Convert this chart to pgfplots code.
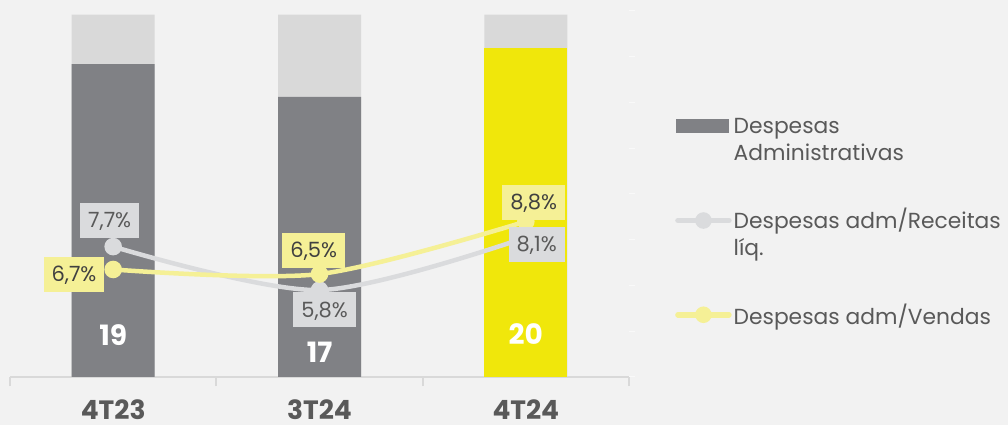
\documentclass[border=0pt]{standalone}
\usepackage{pgfplots}
\pgfplotsset{compat=1.18}
\usepackage{fontspec}
\setmainfont{Poppins}
\usetikzlibrary{backgrounds}
\definecolor{bg}{HTML}{F2F2F2}
\definecolor{barg}{HTML}{808185}
\definecolor{bartop}{HTML}{D9D9D9}
\definecolor{baryel}{HTML}{F0E70B}
\definecolor{lgray}{HTML}{DADBDD}
\definecolor{lyel}{HTML}{F5F096}
\definecolor{txt}{HTML}{595959}
\definecolor{txtd}{HTML}{404040}
\newcommand\ls{\rule[-8.1pt]{0pt}{27pt}}
\tikzset{
  lab/.style={font=\fontsize{21}{21}\selectfont, inner xsep=8pt, inner ysep=0pt, text height=14.7pt, text depth=0pt, minimum height=35pt},
  lbg/.style={lab, fill=lgray, text=txt},
  lby/.style={lab, fill=lyel, text=txtd},
  val/.style={font=\bfseries\fontsize{28}{28}\selectfont, text=white}}
\begin{document}
\begin{tikzpicture}
\pgfplotsset{base/.style={scale only axis, width=619pt, height=366pt, at={(10pt,48pt)}, anchor=south west, xmin=-0.5, xmax=2.5, clip=false}}
% primary axis: bars
\begin{axis}[base, ymin=0, ymax=22.22, ybar, bar width=83pt,
  axis x line*=bottom, axis y line=none,
  x axis line style={draw=bartop, line width=1.7pt, -},
  xtick={0,1,2}, xticklabels={4T23,3T24,4T24},
  major tick length=0pt, minor xtick={-0.5,0.5,1.5,2.5}, minor tick length=9pt, tick align=outside,
  minor tick style={draw=bartop, line width=1.7pt},
  xticklabel style={font=\bfseries\fontsize{26.5}{26.5}\selectfont, text=txt, anchor=base, inner sep=0pt, text depth=0pt, yshift=-42pt}]
\addplot[fill=bartop, draw=none, bar shift=0pt] coordinates {(0,22)(1,22)(2,22)};
\addplot[fill=barg, draw=none, bar shift=0pt] coordinates {(0,19)(1,17)};
\addplot[fill=baryel, draw=none, bar shift=0pt] coordinates {(2,20)};
\node[val] at (axis cs:0,2.55) {19};
\node[val] at (axis cs:1,1.52) {17};
\node[val] at (axis cs:2,2.58) {20};
\end{axis}
% secondary axis: ratios
\begin{axis}[base, ymin=2, ymax=18,
  axis x line=none, axis y line*=right, y axis line style={draw=none},
  ytick={2,4,...,18}, yticklabels={}, major tick length=6pt, tick align=outside,
  tick style={draw=white!55!bg, line width=1pt},
  legend cell align=left,
  legend style={draw=none, fill=none, at={(1.0743,0.7183)}, anchor=north west, inner sep=0pt,
    nodes={inner sep=0pt, text depth=}, row sep=40pt, column sep=2pt,
    font=\fontsize{21.8}{27}\selectfont, text=txt}]
\addlegendimage{legend image code/.code={\fill[barg] (0pt,9.1pt) rectangle (52pt,22.1pt); \path[draw=none,fill=none] (0pt,-22.1pt) -- (0pt,22.1pt);}}
\addplot[draw=lgray, line width=4.5pt, smooth, mark=*, mark size=6.5pt, mark options={fill=lgray, draw=none},
  legend image code/.code={\draw[lgray, line width=5.5pt, line cap=round] (2pt,15.6pt) -- (53pt,15.6pt); \fill[lgray] (27.5pt,15.6pt) circle (6pt); \path[draw=none,fill=none] (0pt,-22pt) -- (0pt,22pt);}]
  coordinates {(0,7.7)(1,5.8)(2,8.1)};
\addplot[draw=lyel, line width=4.5pt, smooth, mark=*, mark size=6.5pt, mark options={fill=lyel, draw=none},
  legend image code/.code={\draw[lyel, line width=5.5pt, line cap=round] (2pt,3.5pt) -- (53pt,3.5pt); \fill[lyel] (27.5pt,3.5pt) circle (6pt); \path[draw=none,fill=none] (0pt,-9.5pt) -- (0pt,9.5pt);}]
  coordinates {(0,6.7)(1,6.5)(2,8.8)};
\legend{{\vtop{\hbox{\ls Despesas}\hbox{\ls Administrativas}}},{\vtop{\hbox{\ls Despesas adm/Receitas}\hbox{\ls líq.}}},{\ls Despesas adm/Vendas}}
\end{axis}
% labels on top of the lines
\begin{axis}[base, ymin=2, ymax=18, hide axis]
\node[lbg] at (axis cs:-0.017,8.84) {7,7\%};
\node[lby] at (axis cs:-0.19,6.48) {6,7\%};
\node[lby] at (axis cs:0.972,7.53) {6,5\%};
\node[lbg] at (axis cs:1.025,4.93) {5,8\%};
\node[lby] at (axis cs:2.038,9.63) {8,8\%};
\node[lbg] at (axis cs:2.053,7.79) {8,1\%};
\end{axis}
\begin{scope}[on background layer]
\fill[bg] (0,0) rectangle (1008pt,425pt);
\end{scope}
\pgfresetboundingbox
\path[use as bounding box] (0,0) rectangle (1008pt,425pt);
\end{tikzpicture}
\end{document}
